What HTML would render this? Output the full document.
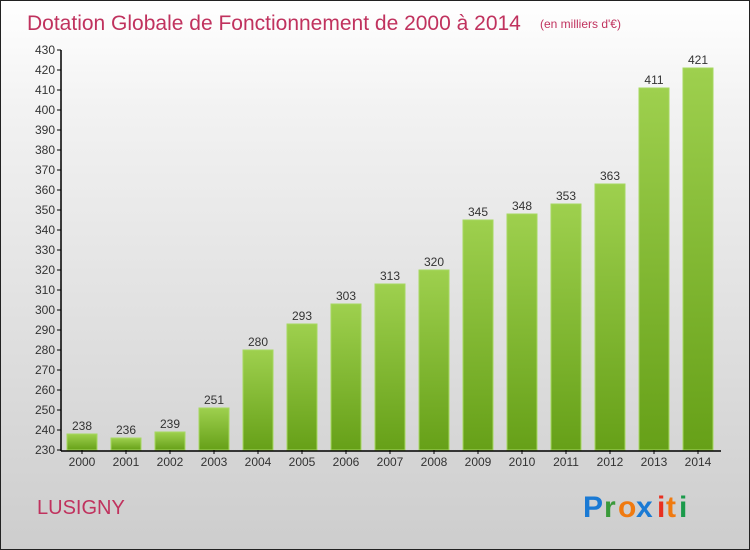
<!DOCTYPE html>
<html><head><meta charset="utf-8"><style>
body{margin:0}
#wrap{position:relative;width:748px;height:548px;border:1px solid #222;background:linear-gradient(#fff,#f2f2f2 20%,#cdcdcd);font-family:"Liberation Sans",sans-serif;overflow:hidden}
</style></head><body>
<div id="wrap">
<svg id="svg" width="748" height="548">
<defs><linearGradient id="g" x1="0" y1="0" x2="0" y2="1"><stop offset="0" stop-color="#9ed04e"/><stop offset="1" stop-color="#66a018"/></linearGradient></defs>
<text x="26" y="29" font-size="21" fill="#c0325e">Dotation Globale de Fonctionnement de 2000 à 2014</text>
<text x="539" y="27" font-size="12" fill="#c0325e">(en milliers d'€)</text>
<text x="36" y="513" font-size="20" fill="#c0325e">LUSIGNY</text>
<g font-size="30" font-weight="bold" font-family="'Liberation Sans',sans-serif">
<text x="582" y="516" fill="#1a7ad4">P</text><text x="603" y="516" fill="#3a9a3a">r</text><text x="617" y="516" fill="#f07a10">o</text><text x="635" y="516" fill="#1a7ad4">x</text><text x="656" y="516" fill="#e83020">i</text><text x="665" y="516" fill="#f07a10">t</text><text x="678" y="516" fill="#1a9a4a">i</text>
</g>
<g id="plot"></g>
</svg></div>
<script>
const years=["2000","2001","2002","2003","2004","2005","2006","2007","2008","2009","2010","2011","2012","2013","2014"];
const values=[238,236,239,251,280,293,303,313,320,345,348,353,363,411,421];
const ticks=[230,240,250,260,270,280,290,300,310,320,330,340,350,360,370,380,390,400,410,420,430];
const NS="http://www.w3.org/2000/svg";
const plot=document.getElementById('plot');
const y=v=>449-(v-230)*2;
const x=i=>66+i*44;
function mk(t,a){const e=document.createElementNS(NS,t);for(const k in a)e.setAttribute(k,a[k]);plot.appendChild(e);return e;}
ticks.forEach(t=>{
 const l=mk('line',{x1:56,x2:60,y1:y(t),y2:y(t),stroke:'#000'});
 
 
 const tx=mk('text',{x:54,y:y(t)+4,'font-size':12,fill:'#333','text-anchor':'end'});tx.textContent=t;
 
 
});
values.forEach((v,i)=>{
 const r=mk('rect',{x:x(i),y:y(v),width:30,height:y(230)-y(v),fill:'url(#g)',stroke:'#a6d860','stroke-width':1});
 
 
 const t=mk('text',{x:x(i)+15,y:y(v)-4,'font-size':12,fill:'#333','text-anchor':'middle'});t.textContent=v;
 
 
 const tk=mk('line',{x1:x(i)+15,x2:x(i)+15,y1:449,y2:453,stroke:'#000'});
 
 
 const xl=mk('text',{x:x(i)+15,y:465,'font-size':12,fill:'#333','text-anchor':'middle'});xl.textContent=years[i];
 
 
});
const ya=mk('line',{x1:60,x2:60,y1:49,y2:450,stroke:'#000','stroke-width':1.5});


const xa=mk('line',{x1:60,x2:720,y1:450,y2:450,stroke:'#000','stroke-width':1.5});


</script>
</body></html>
